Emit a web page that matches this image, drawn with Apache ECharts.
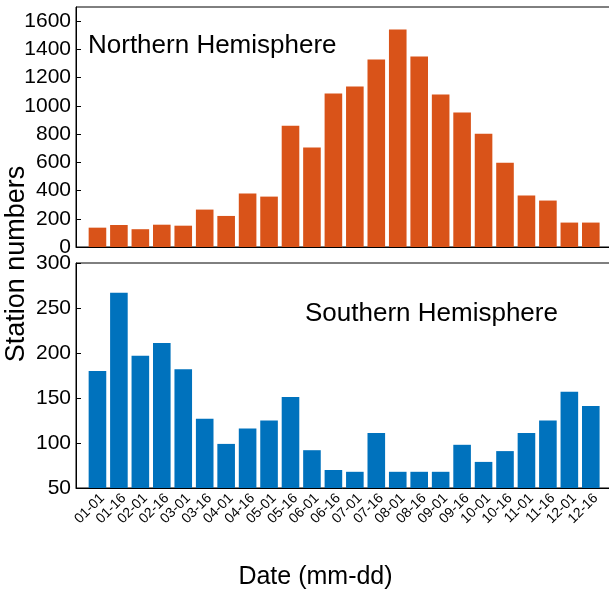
<!DOCTYPE html>
<html>
<head>
<meta charset="utf-8">
<script src="https://cdn.jsdelivr.net/npm/echarts@6/dist/echarts.min.js"></script>
<style>
html,body{margin:0;padding:0;background:#fff;}
#c{width:609px;height:596px;}
</style>
</head>
<body>
<div id="c"></div>
<script>
const categories = ['01-01','01-16','02-01','02-16','03-01','03-16','04-01','04-16','05-01','05-16','06-01','06-16',
                    '07-01','07-16','08-01','08-16','09-01','09-16','10-01','10-16','11-01','11-16','12-01','12-16'];
const northValues = [137,156,126,158,151,265,220,379,357,859,705,1087,1136,1328,1541,1349,1080,952,803,597,364,329,173,173];
const southValues = [180,267,197,211,182,127,99,116,125,151,92,70,68,111,68,68,68,98,79,91,111,125,157,141];
const northTicks = [0,1700,200];
const southTicks = [50,300,50];

const FONT = "'Liberation Sans', Arial, Helvetica, sans-serif";
const chart = echarts.init(document.getElementById('c'), null, {renderer:'canvas'});

function yAxis(gi, t){
  return {
    type:'value', gridIndex:gi, min:t[0], max:t[1], interval:t[2],
    axisLine:{show:true, onZero:false, lineStyle:{color:'#000', width:1}},
    axisTick:{show:true, inside:true, length:5, lineStyle:{color:'#000'}},
    splitLine:{show:false},
    axisLabel:{color:'#000', fontSize:21, fontFamily:FONT, margin:5, showMaxLabel: gi===1,
      formatter: v => String(v)}
  };
}
function xAxis(gi, showLabels){
  return {
    type:'value', gridIndex:gi, min:-1, max:24, interval:1,
    axisLine:{show:true, onZero:false, lineStyle:{color:'#000', width:1}},
    axisTick:{show:false}, splitLine:{show:false},
    axisLabel:{show:showLabels, rotate:45, margin:3, fontSize:14, fontFamily:FONT, color:'#000',
      verticalAlign:'top', align:'right',
      showMinLabel:true, showMaxLabel:true,
      formatter: v => (Number.isInteger(v) && categories[v]) ? categories[v] : ''}
  };
}

chart.setOption({
  animation:false,
  backgroundColor:'#fff',
  grid:[
    {left:76, right:-3.25, top:7, height:240, show:true, borderColor:'#000', borderWidth:1, backgroundColor:'transparent', outerBoundsMode:'none', containLabel:false},
    {left:76, right:-3.25, top:263, height:225, show:true, borderColor:'#000', borderWidth:1, backgroundColor:'transparent', outerBoundsMode:'none', containLabel:false}
  ],
  xAxis:[xAxis(0,false), xAxis(1,true)],
  yAxis:[yAxis(0,northTicks), yAxis(1,southTicks)],
  series:[
    {type:'bar', xAxisIndex:0, yAxisIndex:0, barWidth:17.6, itemStyle:{color:'#D95319'},
     data: northValues.map((v,i)=>[i,v])},
    {type:'bar', xAxisIndex:1, yAxisIndex:1, barWidth:17.6, itemStyle:{color:'#0072BD'},
     data: southValues.map((v,i)=>[i,v])}
  ],
  graphic:[
    {type:'text', x:88, y:46, style:{text:'Northern Hemisphere', font:'26px '+FONT, fill:'#000', verticalAlign:'middle', align:'left'}},
    {type:'text', x:305, y:314, style:{text:'Southern Hemisphere', font:'26px '+FONT, fill:'#000', verticalAlign:'middle', align:'left'}},
    {type:'text', x:315.5, y:577, style:{text:'Date (mm-dd)', font:'25px '+FONT, fill:'#000', verticalAlign:'middle', align:'center'}},
    {type:'text', x:17, y:264, rotation:Math.PI/2, style:{text:'Station numbers', font:'27px '+FONT, fill:'#000', verticalAlign:'middle', align:'center'}}
  ]
});
</script>
</body>
</html>
